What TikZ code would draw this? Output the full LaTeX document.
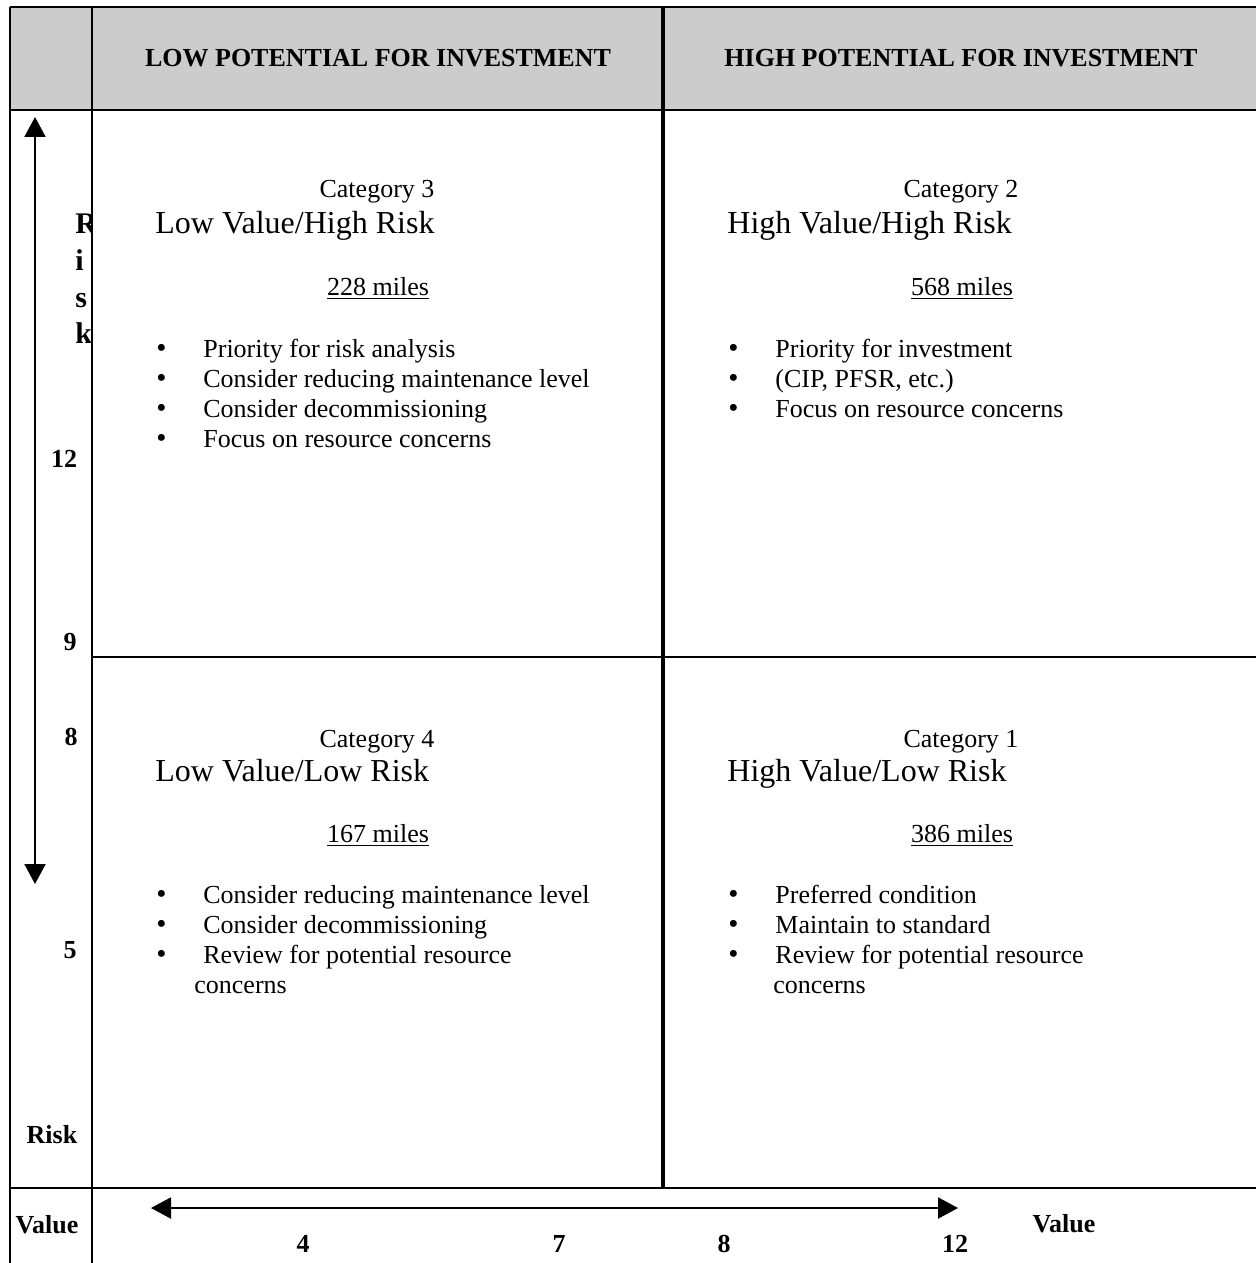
\documentclass[tikz,border=0pt]{standalone}
\usepackage{fontspec}
\setmainfont{Liberation Serif}
\usetikzlibrary{arrows.meta}

\definecolor{hdrgray}{gray}{0.8}

\newcommand\itembul[1]{\makebox[42pt][c]{\fontsize{14.5}{15}\selectfont\textbullet}#1}

\tikzset{
  body/.style = {font=\fontsize{13}{15}\selectfont, inner sep=0pt},
  quadtitle/.style = {font=\fontsize{16}{19}\selectfont, inner sep=0pt, anchor=base west},
  hdr/.style = {font=\bfseries\fontsize{13}{15}\selectfont, inner sep=0pt, anchor=base},
  axislbl/.style = {font=\bfseries\fontsize{13}{15}\selectfont, inner sep=0pt, anchor=base},
  riskletter/.style = {font=\bfseries\fontsize{15}{18}\selectfont, inner sep=0pt, anchor=base west},
  item/.style = {body, anchor=base west},
  axisarrow/.style = {line width=1pt, {Triangle[width=10.5pt,length=10pt]}-{Triangle[width=10.5pt,length=10pt]}}
}

\begin{document}
\begin{tikzpicture}[x=0.5pt, y=-0.5pt]
  \def\xL{10}
  \def\xA{92}
  \def\xM{663}
  \def\xR{1256}
  \def\yT{7}
  \def\yH{110}
  \def\yC{657}
  \def\yB{1188}
  \def\yE{1263}

  \useasboundingbox (0,0) rectangle (1256,1263);

  % header band
  \begin{scope}
    \fill [hdrgray] (\xL,\yT) rectangle (\xR,\yH);
  \end{scope}

  % grid
  \begin{scope}[line width=1.1pt]
    \draw (\xL,\yT) -- (\xR,\yT);
    \draw (\xL,\yH) -- (\xR,\yH);
    \draw (\xA,\yC) -- (\xR,\yC);
    \draw (\xL,\yB) -- (\xR,\yB);
    \draw (\xL,\yT) -- (\xL,\yE);
    \draw (\xA,\yT) -- (\xA,\yE);
    \draw [line width=1.7pt] (\xM,\yT) -- (\xM,\yB);
  \end{scope}

  \node [hdr] (hdrLow) at (378,67) {LOW POTENTIAL FOR INVESTMENT};
  \node [hdr] (hdrHigh) at (961,67) {HIGH POTENTIAL FOR INVESTMENT};

  % risk axis
  \coordinate (riskTop) at (35,117);
  \coordinate (riskBot) at (35,884);
  \draw [axisarrow] (riskBot) -- (riskTop);

  \begin{scope}
    \clip (60,195) rectangle (\xA,360);
    \node [riskletter] (riskR) at (75,233) {R};
    \node [riskletter] (riskI) at (75,270) {i};
    \node [riskletter] (riskS) at (75,307) {s};
    \node [riskletter] (riskK) at (75,343) {k};
  \end{scope}

  \node [axislbl] (risk12) at (64,467) {12};
  \node [axislbl] (risk9) at (70,650) {9};
  \node [axislbl] (risk8) at (71,745) {8};
  \node [axislbl] (risk5) at (70,958) {5};
  \node [axislbl] (riskLbl) at (52,1143) {Risk};

  % value axis
  \coordinate (valLeft) at (151,1208);
  \coordinate (valRight) at (958,1208);
  \draw [axisarrow] (valLeft) -- (valRight);

  \node [axislbl] (valLbl) at (47,1233) {Value};
  \node [axislbl] (val4) at (303,1252) {4};
  \node [axislbl] (val7) at (559,1252) {7};
  \node [axislbl] (val8) at (724,1252) {8};
  \node [axislbl] (val12) at (955,1252) {12};
  \node [axislbl] (valLblR) at (1064,1232) {Value};

  % category 3
  \node [body, anchor=base] (cat3) at (377,197) {Category 3};
  \node [quadtitle] (cat3title) at (155,233) {Low Value/High Risk};
  \node [body, anchor=base] (cat3miles) at (378,295) {\underline{228 miles}};
  \node [item] (cat3i1) at (119,357) {\itembul{Priority for risk analysis}};
  \node [item] (cat3i2) at (119,387) {\itembul{Consider reducing maintenance level}};
  \node [item] (cat3i3) at (119,417) {\itembul{Consider decommissioning}};
  \node [item] (cat3i4) at (119,447) {\itembul{Focus on resource concerns}};

  % category 2
  \node [body, anchor=base] (cat2) at (961,197) {Category 2};
  \node [quadtitle] (cat2title) at (727,233) {High Value/High Risk};
  \node [body, anchor=base] (cat2miles) at (962,295) {\underline{568 miles}};
  \node [item] (cat2i1) at (691,357) {\itembul{Priority for investment}};
  \node [item] (cat2i2) at (691,387) {\itembul{(CIP, PFSR, etc.)}};
  \node [item] (cat2i3) at (691,417) {\itembul{Focus on resource concerns}};

  % category 4
  \node [body, anchor=base] (cat4) at (377,747) {Category 4};
  \node [quadtitle] (cat4title) at (155,781) {Low Value/Low Risk};
  \node [body, anchor=base] (cat4miles) at (378,842) {\underline{167 miles}};
  \node [item] (cat4i1) at (119,903) {\itembul{Consider reducing maintenance level}};
  \node [item] (cat4i2) at (119,933) {\itembul{Consider decommissioning}};
  \node [item] (cat4i3) at (119,963) {\itembul{Review for potential resource}};
  \node [item] (cat4i3b) at (194,993) {concerns};

  % category 1
  \node [body, anchor=base] (cat1) at (961,747) {Category 1};
  \node [quadtitle] (cat1title) at (727,781) {High Value/Low Risk};
  \node [body, anchor=base] (cat1miles) at (962,842) {\underline{386 miles}};
  \node [item] (cat1i1) at (691,903) {\itembul{Preferred condition}};
  \node [item] (cat1i2) at (691,933) {\itembul{Maintain to standard}};
  \node [item] (cat1i3) at (691,963) {\itembul{Review for potential resource}};
  \node [item] (cat1i3b) at (773,993) {concerns};
\end{tikzpicture}
\end{document}
